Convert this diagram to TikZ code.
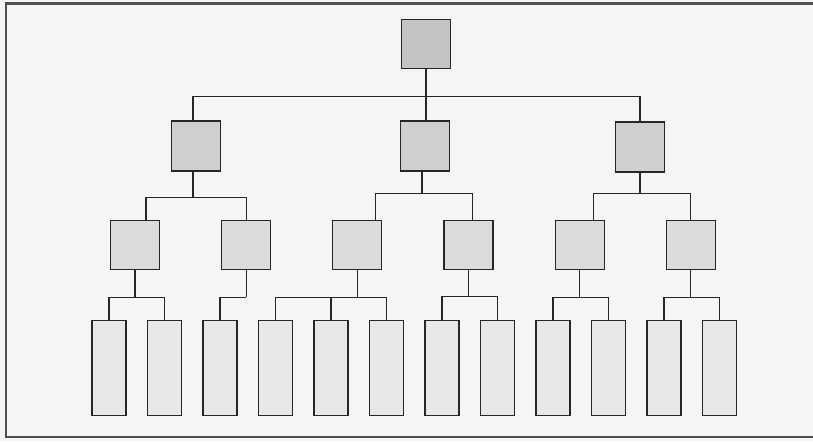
\documentclass[tikz,border=0pt]{standalone}
\usepackage{xcolor}
\usepackage{tikz}
\usetikzlibrary{positioning, calc}

\definecolor{paper}{HTML}{F3F6F5}
\definecolor{frameline}{HTML}{505050}

\begin{document}
\begin{tikzpicture}[
    x=0.03cm, y=-0.03cm,
    box/.style={rectangle, draw=black!85, line width=1pt, inner sep=0pt},
    head/.style={box, fill=black!23, minimum width=1.47cm, minimum height=1.45cm},
    dept/.style={box, fill=black!19, minimum width=1.47cm, minimum height=1.5cm},
    unit/.style={box, fill=black!14, minimum width=1.47cm, minimum height=1.48cm},
    leaf/.style={box, fill=black!9, minimum width=1.02cm, minimum height=2.85cm},
    link/.style={draw=black!85, line width=1pt}
  ]
    % page and frame
    \useasboundingbox[fill=paper] (0,0) rectangle (813,441);
    \draw[frameline, line width=1.8pt] (813,3.5) -- (6,3.5) -- (6,437) -- (813,437);

    % top
    \node[head] (top) at (426,44) {};

    % second row
    \node[dept] (b1) at (196,146) {};
    \node[dept] (b2) at (425,146) {};
    \node[dept] (b3) at (640,147) {};

    % third row
    \node[unit] (c1) at (135,245) {};
    \node[unit, right=1.83cm of c1] (c2) {};
    \node[unit, right=1.83cm of c2] (c3) {};
    \node[unit, right=1.83cm of c3] (c4) {};
    \node[unit, right=1.83cm of c4] (c5) {};
    \node[unit, right=1.83cm of c5] (c6) {};

    % bottom row
    \node[leaf] (d1) at (109,368) {};
    \node[leaf, right=0.61cm of d1] (d2) {};
    \node[leaf, right=0.61cm of d2] (d3) {};
    \node[leaf, right=0.61cm of d3] (d4) {};
    \node[leaf, right=0.61cm of d4] (d5) {};
    \node[leaf, right=0.61cm of d5] (d6) {};
    \node[leaf, right=0.61cm of d6] (d7) {};
    \node[leaf, right=0.61cm of d7] (d8) {};
    \node[leaf, right=0.61cm of d8] (d9) {};
    \node[leaf, right=0.61cm of d9] (d10) {};
    \node[leaf, right=0.61cm of d10] (d11) {};
    \node[leaf, right=0.61cm of d11] (d12) {};

    % top to second row
    \draw[link] (top.south) -- (top.south |- b2.north);
    \draw[link] ($(b1.north)+(-3,0)$) -- ++(0,-24) coordinate (ja) -| (b3.north);

    % second to third row
    \draw[link] ($(b1.south)+(-3,0)$) -- ++(0,26) coordinate (jb);
    \draw[link] ($(c1.north)+(11,0)$) |- (jb) -| (c2.north);
    \draw[link] ($(b2.south)+(-3,0)$) -- ++(0,22) coordinate (jc);
    \draw[link] ($(c3.north)+(18,0)$) |- (jc) -| ($(c4.north)+(4,0)$);
    \draw[link] (b3.south) -- ++(0,21) coordinate (jd);
    \draw[link] ($(c5.north)+(14,0)$) |- (jd) -| (c6.north);

    % third to bottom row
    \draw[link] (c1.south) -- ++(0,27) coordinate (je);
    \draw[link] (d1.north) |- (je) -| (d2.north);
    \draw[link] (c2.south) -- ++(0,27) coordinate (jf);
    \draw[link] (d3.north) |- (jf);
    \draw[link] (c3.south) -- ++(0,27) coordinate (jg);
    \draw[link] (d4.north) |- (jg) -| (d6.north);
    \draw[link] (d5.north) -- (d5.north |- jg);
    \draw[link] (c4.south) -- ++(0,26) coordinate (jh);
    \draw[link] (d7.north) |- (jh) -| (d8.north);
    \draw[link] (c5.south) -- ++(0,27) coordinate (ji);
    \draw[link] (d9.north) |- (ji) -| (d10.north);
    \draw[link] (c6.south) -- ++(0,27) coordinate (jj);
    \draw[link] (d11.north) |- (jj) -| (d12.north);
  \end{tikzpicture}
\end{document}
